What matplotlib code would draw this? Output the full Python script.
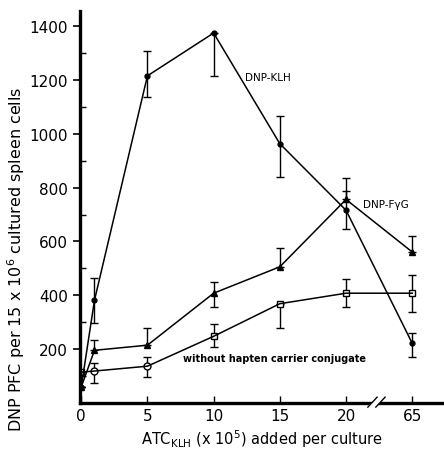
# Datos
import numpy as np
import matplotlib.pyplot as plt

# categorías del eje x (el último valor va después del corte del eje)
dosis = [0, 1, 5, 10, 15, 20, 65]
posicion = [0, 1, 5, 10, 15, 20, 25]

# DNP-KLH (círculos llenos)
klh = [60, 382, 1215, 1374, 963, 716, 222]
klh_sup = [0, 84, 91, 0, 102, 70, 37]
klh_inf = [0, 84, 77, 159, 123, 70, 51]

# DNP-FyG (triángulos llenos)
fgg = [60, 196, 215, 408, 506, 756, 561]
fgg_sup = [0, 37, 65, 42, 71, 80, 59]
fgg_inf = [0, 0, 0, 52, 0, 0, 0]

# sin conjugado hapteno-portador (símbolos abiertos)
sin_hapteno = [115, 119, 137, 248, 369, 408, 408]
sin_sup = [0, 30, 33, 47, 0, 51, 69]
sin_inf = [0, 44, 41, 41, 91, 52, 69]

fig = plt.figure(figsize=(4.44, 4.52), dpi=100)
ax = fig.add_axes([0.18, 0.106, 0.82, 0.867])

estilo = dict(color='black', lw=1.1, capsize=3, elinewidth=1.0, capthick=1.0)
ax.errorbar(posicion, klh, yerr=[klh_inf, klh_sup], fmt='-o', ms=3.5, **estilo)
ax.errorbar(posicion, fgg, yerr=[fgg_inf, fgg_sup], fmt='-^', ms=4, **estilo)
ax.errorbar(posicion, sin_hapteno, yerr=[sin_inf, sin_sup], fmt='-', **estilo)

# símbolos abiertos: círculos en 1 y 5, cuadrados en el resto
circ = [1, 2]
cuad = [0, 3, 4, 5, 6]
ax.plot([posicion[i] for i in circ], [sin_hapteno[i] for i in circ], 'o',
        mfc='white', mec='black', ms=5, mew=1.0)
ax.plot([posicion[i] for i in cuad], [sin_hapteno[i] for i in cuad], 's',
        mfc='white', mec='black', ms=5, mew=1.0)

# etiquetas de las curvas
ax.text(12.35, 1211, 'DNP-KLH', fontsize=7.5, va='center')
ax.text(21.3, 741, 'DNP-F\u03b3G', fontsize=7.5, va='center')
ax.text(7.7, 167, 'without hapten carrier conjugate', fontsize=7,
        fontweight='bold', va='center')

ax.set_xlim(-0.1, 27.4)
ax.set_ylim(0, 1455)

ax.set_xticks(posicion[:1] + posicion[2:])
ax.set_xticklabels([str(d) for d in dosis[:1] + dosis[2:]], fontsize=11)
ax.set_yticks([200, 400, 600, 800, 1000, 1200, 1400])
ax.set_yticks(np.arange(100, 1450, 200), minor=True)
ax.tick_params(axis='y', which='major', direction='out', length=5, width=1.2, labelsize=11)
ax.tick_params(axis='y', which='minor', direction='in', length=4, width=1.0)
ax.tick_params(axis='x', which='major', direction='in', length=5, width=1.0, labelsize=11)

for lado in ['top', 'right']:
    ax.spines[lado].set_visible(False)
for lado in ['left', 'bottom']:
    ax.spines[lado].set_linewidth(2.4)

# marcas de corte del eje x
xc = 22.3
ax.plot([xc - 0.35, xc + 0.35], [-12, 20], color='white',
        lw=4, clip_on=False, zorder=5)
for dx in [-0.3, 0.3]:
    ax.plot([xc + dx - 0.35, xc + dx + 0.35], [-15, 22], color='black', lw=1.0,
            clip_on=False, zorder=6)

ax.set_ylabel('DNP PFC per 15 x 10$^6$ cultured spleen cells', fontsize=11.5)
ax.yaxis.set_label_coords(-0.145, 0.37)
ax.set_xlabel('ATC$_{\\mathrm{KLH}}$ (x 10$^5$) added per culture', fontsize=10.5)
ax.xaxis.set_label_coords(0.5, -0.062)

plt.savefig('out.png', dpi=100)
